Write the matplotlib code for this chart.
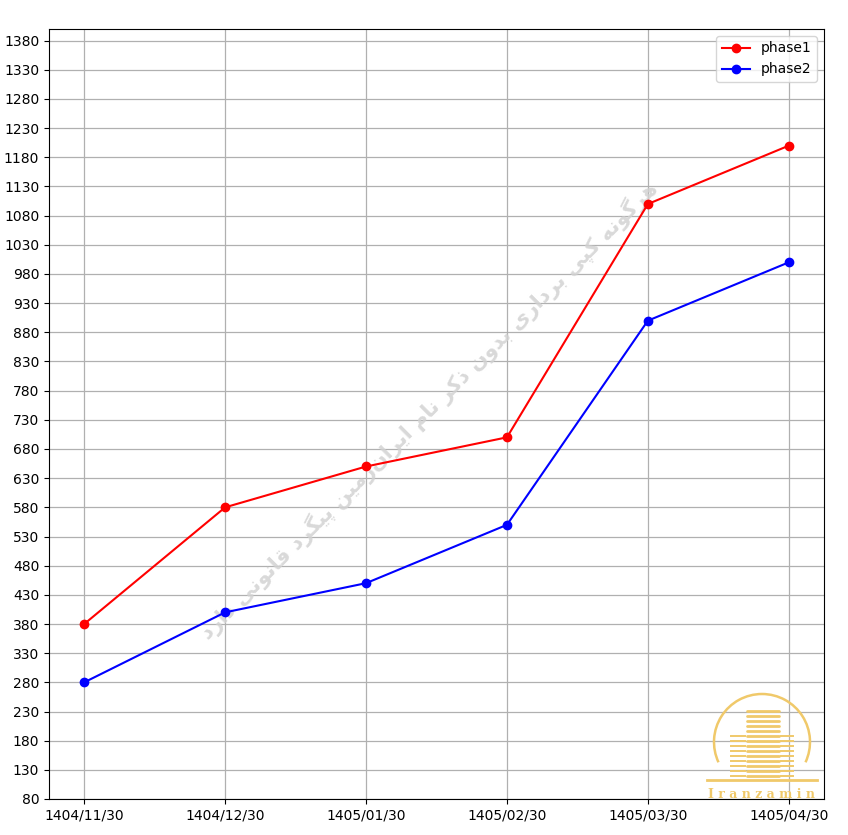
import matplotlib
matplotlib.use("Agg")
import matplotlib.pyplot as plt
from matplotlib.patches import Arc

dates = ["1404/11/30", "1404/12/30", "1405/01/30", "1405/02/30", "1405/03/30", "1405/04/30"]
phase1 = [380, 580, 650, 700, 1100, 1200]
phase2 = [280, 400, 450, 550, 900, 1000]
yticks = list(range(80, 1381, 50))

watermark = "هرگونه کپی برداری بدون ذکر نام ایران\u200cزمین پیگرد قانونی دارد"

# minimal Arabic/Persian shaping for display
FORMS = {
    "ا": ("\uFE8D", "\uFE8E", None, None),
    "ب": ("\uFE8F", "\uFE90", "\uFE91", "\uFE92"),
    "پ": ("\uFB56", "\uFB57", "\uFB58", "\uFB59"),
    "د": ("\uFEA9", "\uFEAA", None, None),
    "ذ": ("\uFEAB", "\uFEAC", None, None),
    "ر": ("\uFEAD", "\uFEAE", None, None),
    "ز": ("\uFEAF", "\uFEB0", None, None),
    "ق": ("\uFED5", "\uFED6", "\uFED7", "\uFED8"),
    "ک": ("\uFB8E", "\uFB8F", "\uFB90", "\uFB91"),
    "گ": ("\uFB92", "\uFB93", "\uFB94", "\uFB95"),
    "م": ("\uFEE1", "\uFEE2", "\uFEE3", "\uFEE4"),
    "ن": ("\uFEE5", "\uFEE6", "\uFEE7", "\uFEE8"),
    "ه": ("\uFEE9", "\uFEEA", "\uFEEB", "\uFEEC"),
    "و": ("\uFEED", "\uFEEE", None, None),
    "ی": ("\uFBFC", "\uFBFD", "\uFBFE", "\uFBFF"),
}


def shape(s):
    out = []
    n = len(s)
    for i, ch in enumerate(s):
        if ch not in FORMS:
            out.append(ch if ch != "\u200c" else "")
            continue
        iso, fin, ini, med = FORMS[ch]
        prev = s[i - 1] if i > 0 else None
        nxt = s[i + 1] if i + 1 < n else None
        join_prev = prev in FORMS and FORMS[prev][2] is not None
        join_next = nxt in FORMS and ini is not None
        if join_prev and join_next:
            out.append(med)
        elif join_prev:
            out.append(fin)
        elif join_next:
            out.append(ini)
        else:
            out.append(iso)
    return "".join(out)[::-1]


fig = plt.figure(figsize=(8.48, 8.35), dpi=100)
ax = fig.add_axes([49 / 848, 36 / 835, 775 / 848, 770 / 835])

x = list(range(len(dates)))
ax.plot(x, phase1, color="red", marker="o", lw=1.5, ms=6, label="phase1", zorder=3)
ax.plot(x, phase2, color="blue", marker="o", lw=1.5, ms=6, label="phase2", zorder=3)

ax.set_xticks(x)
ax.set_xticklabels(dates)
ax.set_yticks(yticks)
ax.set_xlim(-0.25, 5.25)
ax.set_ylim(80, 1400)
ax.grid(True, color="#b0b0b0", lw=0.9)
ax.set_axisbelow(True)
ax.tick_params(labelsize=10)
ax.legend(loc="upper right", fontsize=10)

# watermark
ax.text(0.49, 0.505, shape(watermark), transform=ax.transAxes, rotation=45,
        ha="center", va="center", fontsize=15, fontweight="bold",
        color="#d2d2d2", alpha=0.85, family=["DejaVu Sans"], zorder=1)

# logo approximation
gold = "#f0c96a"
lax = fig.add_axes([705 / 848, 835 / 835 - 800 / 835, 120 / 848, 112 / 835])
lax.set_xlim(0, 120)
lax.set_ylim(0, 112)
lax.axis("off")
lax.add_patch(Arc((57, 58), 96, 96, theta1=-25, theta2=205, color=gold, lw=1.8))
for yy in range(24, 90, 5):
    lax.plot([42, 74], [yy, yy], color=gold, lw=2.0, solid_capstyle="round")
for yy in range(24, 66, 5):
    lax.plot([26, 40], [yy, yy], color=gold, lw=1.4)
    lax.plot([76, 88], [yy, yy], color=gold, lw=1.4)
lax.plot([2, 112], [20, 20], color=gold, lw=2)
lax.text(57, 6, "I r a n z a m i n", ha="center", va="center", fontsize=9,
         color=gold, family="DejaVu Serif", fontweight="bold")

fig.savefig("out.png", dpi=100)
